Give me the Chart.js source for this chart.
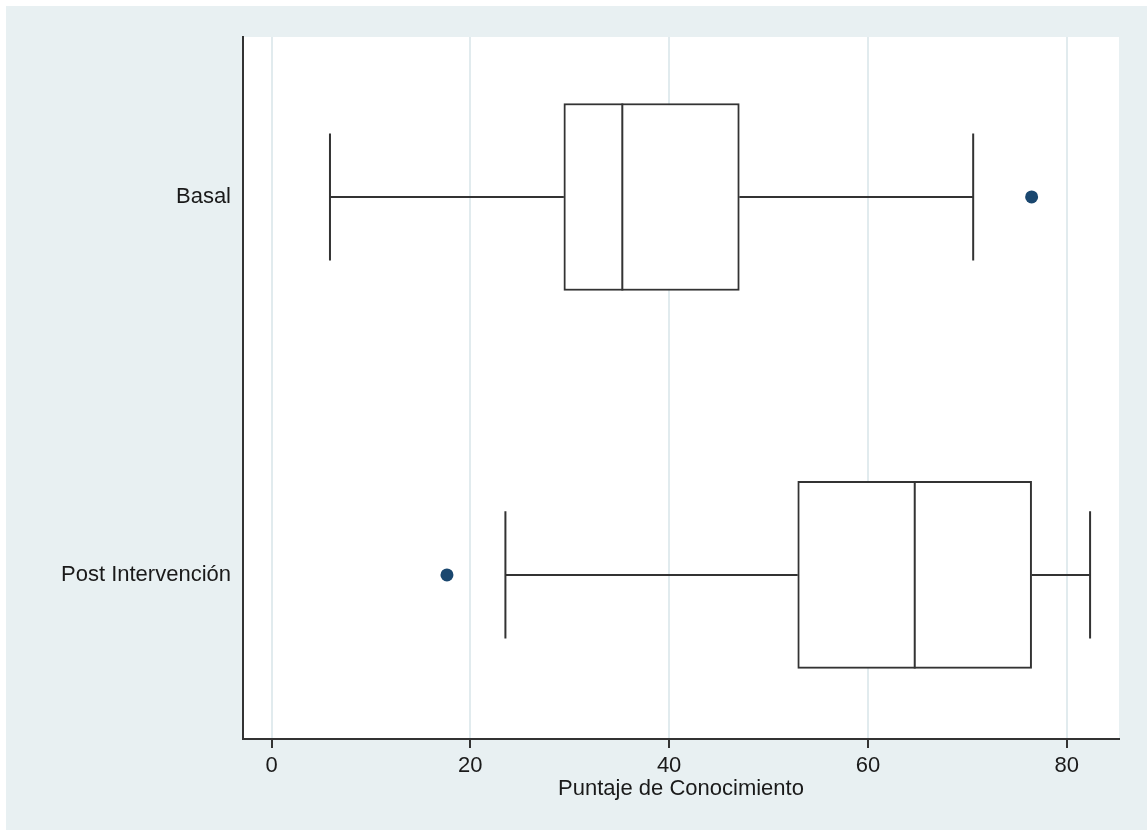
<!DOCTYPE html>
<html>
<head>
<meta charset="utf-8">
<script src="https://cdn.jsdelivr.net/npm/chart.js@4/dist/chart.umd.min.js"></script>
<style>
  body { margin: 0; background: #fff; }
</style>
</head>
<body>
<canvas id="chart-box" width="1147" height="831"></canvas>
<script>
// groups, drawn top to bottom
var groups = ['Basal', 'Post Intervención'];

// five-number summaries per group (score out of 17 items, in %)
var whiskerLow  = [5.88, 23.53];
var quartile1   = [29.41, 52.94];
var medians     = [35.29, 64.71];
var quartile3   = [47.06, 76.47];
var whiskerHigh = [70.59, 82.35];

// values beyond the whiskers: [group index, value]
var outliers = [[0, 76.47], [1, 17.65]];

var xTicks = [0, 20, 40, 60, 80];

var lineColor = '#333333';
var dotColor = '#1a476f';
var boxPx = 187;       // box height in pixels
var capRatio = 0.68;   // whisker cap height relative to the box

var boxes = [];
for (var i in groups) {
	boxes.push({ x: [quartile1[i], quartile3[i]], y: Number(i) });
}
var dots = [];
for (var j in outliers) {
	dots.push({ x: outliers[j][1], y: outliers[j][0] });
}

// page frame: white rim, bluish-gray region, white plot region
var frame = {
	id: 'frame',
	beforeDraw: function(chart) {
		var ctx = chart.ctx, a = chart.chartArea;
		ctx.save();
		ctx.fillStyle = '#ffffff';
		ctx.fillRect(0, 0, chart.width, chart.height);
		ctx.fillStyle = '#e8f0f2';
		ctx.fillRect(6, 6, chart.width - 6, chart.height - 7);
		ctx.fillStyle = '#ffffff';
		ctx.fillRect(a.left, a.top, a.right - a.left, a.bottom - a.top);
		ctx.restore();
	}
};

// whiskers, caps and median lines on top of the boxes
var whiskers = {
	id: 'whiskers',
	afterDatasetsDraw: function(chart) {
		var ctx = chart.ctx;
		var xs = chart.scales.x, ys = chart.scales.y;
		var cap = boxPx * capRatio / 2, half = boxPx / 2;
		ctx.save();
		ctx.strokeStyle = lineColor;
		ctx.lineWidth = 2;
		for (var i in groups) {
			var yc = ys.getPixelForValue(Number(i));
			var lo = xs.getPixelForValue(whiskerLow[i]);
			var q1 = xs.getPixelForValue(quartile1[i]);
			var md = xs.getPixelForValue(medians[i]);
			var q3 = xs.getPixelForValue(quartile3[i]);
			var hi = xs.getPixelForValue(whiskerHigh[i]);
			ctx.beginPath();
			ctx.moveTo(lo, yc); ctx.lineTo(q1, yc);
			ctx.moveTo(q3, yc); ctx.lineTo(hi, yc);
			ctx.moveTo(lo, yc - cap); ctx.lineTo(lo, yc + cap);
			ctx.moveTo(hi, yc - cap); ctx.lineTo(hi, yc + cap);
			ctx.moveTo(md, yc - half); ctx.lineTo(md, yc + half);
			ctx.stroke();
		}
		ctx.restore();
	}
};

var font = { family: "'Liberation Sans', Arial, sans-serif", size: 22 };

new Chart(document.getElementById('chart-box'), {
	type: 'bar',
	data: {
		datasets: [{
			type: 'bar',
			data: boxes,
			backgroundColor: '#ffffff',
			borderColor: lineColor,
			borderWidth: 2,
			borderSkipped: false,
			barThickness: boxPx,
			order: 2
		}, {
			type: 'scatter',
			data: dots,
			pointRadius: 6.5,
			pointBackgroundColor: dotColor,
			pointBorderColor: dotColor,
			pointBorderWidth: 0,
			order: 1
		}]
	},
	options: {
		indexAxis: 'y',
		responsive: false,
		animation: false,
		layout: { padding: { left: 6, top: 37, right: 28, bottom: 0 } },
		plugins: { legend: { display: false }, tooltip: { enabled: false } },
		scales: {
			x: {
				type: 'linear',
				position: 'bottom',
				min: -2.87,
				max: 85.26,
				afterBuildTicks: function(s) {
					s.ticks = xTicks.map(function(v) { return { value: v }; });
				},
				afterFit: function(s) { s.height = 92; },
				grid: {
					color: '#e1ebee',
					lineWidth: 2,
					tickColor: lineColor,
					tickWidth: 2,
					tickLength: 9
				},
				border: { display: true, color: lineColor, width: 2 },
				ticks: { font: font, color: '#1a1a1a', padding: 5, maxRotation: 0 },
				title: {
					display: true,
					text: 'Puntaje de Conocimiento',
					font: font,
					color: '#1a1a1a',
					padding: { top: 0, bottom: 29 }
				}
			},
			y: {
				type: 'linear',
				position: 'left',
				reverse: true,
				offset: false,
				grace: 0,
				min: -0.4232,
				max: 1.434,
				afterBuildTicks: function(s) {
					s.ticks = groups.map(function(g, k) { return { value: k }; });
				},
				afterFit: function(s) { s.width = 237; },
				grid: { display: false, drawTicks: false, offset: false },
				border: { display: true, color: lineColor, width: 2 },
				ticks: {
					font: font,
					color: '#1a1a1a',
					padding: 12,
					callback: function(v) { return groups[v]; }
				}
			}
		}
	},
	plugins: [frame, whiskers]
});
</script>
</body>
</html>
